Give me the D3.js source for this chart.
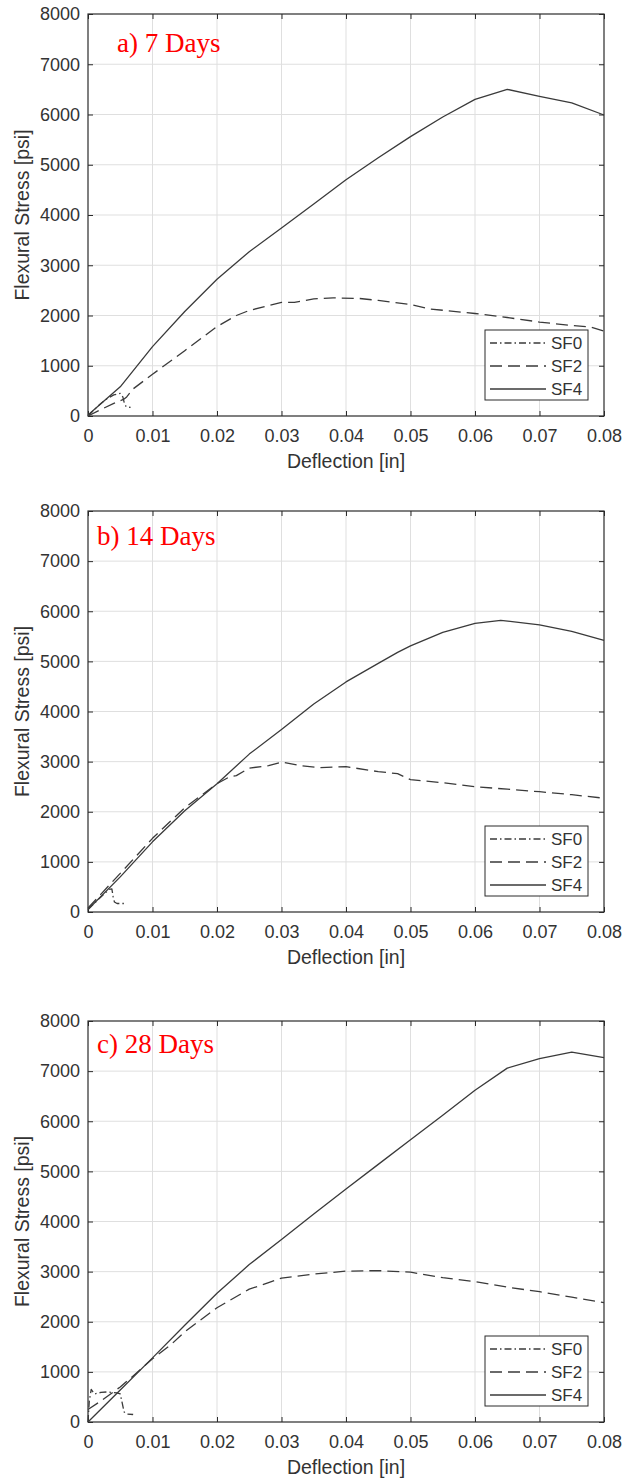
<!DOCTYPE html>
<html>
<head>
<meta charset="utf-8">
<script src="https://cdn.jsdelivr.net/npm/d3@7"></script>
<style>
  html, body { margin: 0; padding: 0; background: #fff; }
  svg { display: block; }
</style>
</head>
<body>
<svg id="chart" width="625" height="1481"></svg>
<script>
// ---------- Data ----------
const xTicks = [0, 0.01, 0.02, 0.03, 0.04, 0.05, 0.06, 0.07, 0.08];
const xTickLabels = ["0", "0.01", "0.02", "0.03", "0.04", "0.05", "0.06", "0.07", "0.08"];
const yTicks = [0, 1000, 2000, 3000, 4000, 5000, 6000, 7000, 8000];
const yTickLabels = ["0", "1000", "2000", "3000", "4000", "5000", "6000", "7000", "8000"];
const seriesNames = ["SF0", "SF2", "SF4"];
const panelTitles = ["a) 7 Days", "b) 14 Days", "c) 28 Days"];

// a) 7 days  [deflection in, stress psi]
const days7_SF0 = [[0,0],[0.001,130],[0.002,250],[0.003,350],[0.004,420],[0.005,450],[0.0054,380],[0.0057,220],[0.006,180],[0.0066,170]];
const days7_SF2 = [[0,0],[0.002,130],[0.004,250],[0.0055,330],[0.006,380],[0.007,540],[0.01,830],[0.015,1300],[0.02,1780],[0.023,2000],[0.025,2100],[0.03,2260],[0.032,2260],[0.035,2330],[0.038,2350],[0.042,2340],[0.045,2300],[0.05,2220],[0.053,2130],[0.06,2040],[0.065,1960],[0.07,1870],[0.075,1800],[0.078,1770],[0.08,1690]];
const days7_SF4 = [[0,20],[0.005,580],[0.01,1380],[0.015,2080],[0.02,2720],[0.025,3270],[0.03,3740],[0.035,4220],[0.04,4700],[0.045,5140],[0.05,5560],[0.055,5950],[0.06,6300],[0.065,6500],[0.07,6360],[0.075,6230],[0.08,5990]];

// b) 14 days
const days14_SF0 = [[0,50],[0.002,300],[0.0033,450],[0.0037,460],[0.0039,300],[0.0041,200],[0.0045,170],[0.0058,170]];
const days14_SF2 = [[0,80],[0.005,770],[0.01,1470],[0.015,2080],[0.02,2560],[0.022,2700],[0.023,2720],[0.025,2870],[0.028,2920],[0.03,2990],[0.033,2920],[0.036,2880],[0.04,2900],[0.045,2800],[0.048,2760],[0.05,2640],[0.055,2580],[0.06,2500],[0.065,2450],[0.07,2400],[0.075,2340],[0.08,2270]];
const days14_SF4 = [[0,50],[0.005,700],[0.01,1400],[0.015,2020],[0.02,2560],[0.025,3150],[0.03,3640],[0.035,4150],[0.04,4590],[0.045,4960],[0.048,5180],[0.05,5310],[0.055,5580],[0.06,5760],[0.064,5820],[0.07,5730],[0.075,5600],[0.08,5420]];

// c) 28 days
const days28_SF0 = [[0,0],[0.0002,420],[0.0005,650],[0.001,560],[0.002,590],[0.003,600],[0.0045,580],[0.005,560],[0.0053,380],[0.0056,200],[0.006,160],[0.007,150]];
const days28_SF2 = [[0,250],[0.002,420],[0.005,700],[0.007,920],[0.01,1260],[0.013,1560],[0.015,1800],[0.02,2280],[0.025,2650],[0.028,2780],[0.03,2870],[0.035,2950],[0.04,3010],[0.045,3020],[0.05,2990],[0.055,2880],[0.06,2800],[0.065,2690],[0.07,2600],[0.075,2490],[0.08,2380]];
const days28_SF4 = [[0,0],[0.005,640],[0.01,1280],[0.015,1930],[0.02,2570],[0.025,3140],[0.03,3640],[0.035,4150],[0.04,4650],[0.045,5140],[0.05,5630],[0.055,6120],[0.06,6620],[0.065,7060],[0.07,7250],[0.075,7380],[0.08,7270]];

const panelData = [
  [days7_SF0, days7_SF2, days7_SF4],
  [days14_SF0, days14_SF2, days14_SF4],
  [days28_SF0, days28_SF2, days28_SF4]
];

// ---------- Layout / style ----------
const panelBoxes = [
  {left: 88, right: 604, top: 14, bottom: 416, titleX: 117, titleY: 52},
  {left: 88, right: 604, top: 511, bottom: 912, titleX: 97, titleY: 545},
  {left: 88, right: 604, top: 1021, bottom: 1422, titleX: 97, titleY: 1053}
];
const dashStyles = ["7,3,1.5,3", "12,6", null];
const axisColor = "#2b2b2b";
const textColor = "#333333";
const lineColor = "#3a3a3a";
const gridColor = "#dfdfdf";
const sansFont = "'Liberation Sans', Arial, Helvetica, sans-serif";

const svg = d3.select("#chart");
svg.append("rect").attr("width", 625).attr("height", 1481).attr("fill", "#fff");

panelBoxes.forEach((b, pi) => {
  const x = d3.scaleLinear().domain([0, 0.08]).range([b.left, b.right]);
  const y = d3.scaleLinear().domain([0, 8000]).range([b.bottom, b.top]);
  const g = svg.append("g");

  // grid
  g.append("g").selectAll("line").data(xTicks.slice(1, -1)).join("line")
    .attr("x1", d => x(d)).attr("x2", d => x(d))
    .attr("y1", b.top).attr("y2", b.bottom)
    .attr("stroke", gridColor).attr("stroke-width", 1);
  g.append("g").selectAll("line").data(yTicks.slice(1, -1)).join("line")
    .attr("y1", d => y(d)).attr("y2", d => y(d))
    .attr("x1", b.left).attr("x2", b.right)
    .attr("stroke", gridColor).attr("stroke-width", 1);

  // axes
  const fmtX = d => xTickLabels[xTicks.indexOf(d)];
  const fmtY = d => yTickLabels[yTicks.indexOf(d)];
  const ax = g.append("g").attr("transform", `translate(0,${b.bottom})`)
    .call(d3.axisBottom(x).tickValues(xTicks).tickFormat(fmtX).tickSizeInner(-5).tickSizeOuter(0).tickPadding(13));
  const axTop = g.append("g").attr("transform", `translate(0,${b.top})`)
    .call(d3.axisTop(x).tickValues(xTicks).tickFormat("").tickSizeInner(-5).tickSizeOuter(0));
  const ay = g.append("g").attr("transform", `translate(${b.left},0)`)
    .call(d3.axisLeft(y).tickValues(yTicks).tickFormat(fmtY).tickSizeInner(-5).tickSizeOuter(0).tickPadding(8));
  const ayR = g.append("g").attr("transform", `translate(${b.right},0)`)
    .call(d3.axisRight(y).tickValues(yTicks).tickFormat("").tickSizeInner(-5).tickSizeOuter(0));
  [ax, axTop, ay, ayR].forEach(a => {
    a.select(".domain").remove();
    a.selectAll(".tick line").attr("stroke", axisColor);
    a.selectAll("text").attr("fill", textColor).style("font-family", sansFont).style("font-size", "18px");
  });

  // frame
  g.append("rect").attr("x", b.left).attr("y", b.top)
    .attr("width", b.right - b.left).attr("height", b.bottom - b.top)
    .attr("fill", "none").attr("stroke", axisColor).attr("stroke-width", 1.2);

  // series lines
  const line = d3.line().x(d => x(d[0])).y(d => y(d[1]));
  panelData[pi].forEach((ser, si) => {
    const p = g.append("path").datum(ser).attr("d", line)
      .attr("fill", "none").attr("stroke", lineColor).attr("stroke-width", 1.3)
      .attr("stroke-linejoin", "round");
    if (dashStyles[si]) p.attr("stroke-dasharray", dashStyles[si]);
  });

  // axis titles
  g.append("text").attr("x", (b.left + b.right) / 2).attr("y", b.bottom + 52)
    .attr("text-anchor", "middle").attr("fill", textColor)
    .style("font-family", sansFont).style("font-size", "19.5px").text("Deflection [in]");
  g.append("text")
    .attr("transform", `translate(29,${(b.top + b.bottom) / 2}) rotate(-90)`)
    .attr("text-anchor", "middle").attr("fill", textColor)
    .style("font-family", sansFont).style("font-size", "19.5px").text("Flexural Stress [psi]");

  // panel title
  g.append("text").attr("x", b.titleX).attr("y", b.titleY)
    .attr("fill", "#ff0000")
    .style("font-family", "'Liberation Serif', 'Times New Roman', serif").style("font-size", "27px")
    .text(panelTitles[pi]);

  // legend
  const lx = b.right - 119, ly = b.bottom - 86, lw = 103, lh = 70;
  const lg = g.append("g");
  lg.append("rect").attr("x", lx).attr("y", ly).attr("width", lw).attr("height", lh)
    .attr("fill", "#fff").attr("stroke", axisColor).attr("stroke-width", 1);
  seriesNames.forEach((name, si) => {
    const cy = ly + 13 + si * 23;
    const l = lg.append("line").attr("x1", lx + 5).attr("x2", lx + 61)
      .attr("y1", cy).attr("y2", cy)
      .attr("stroke", lineColor).attr("stroke-width", 1.3);
    if (dashStyles[si]) l.attr("stroke-dasharray", dashStyles[si]);
    lg.append("text").attr("x", lx + 66).attr("y", cy).attr("dy", "0.36em")
      .attr("fill", textColor).style("font-family", sansFont).style("font-size", "17px")
      .text(name);
  });
});
</script>
</body>
</html>
